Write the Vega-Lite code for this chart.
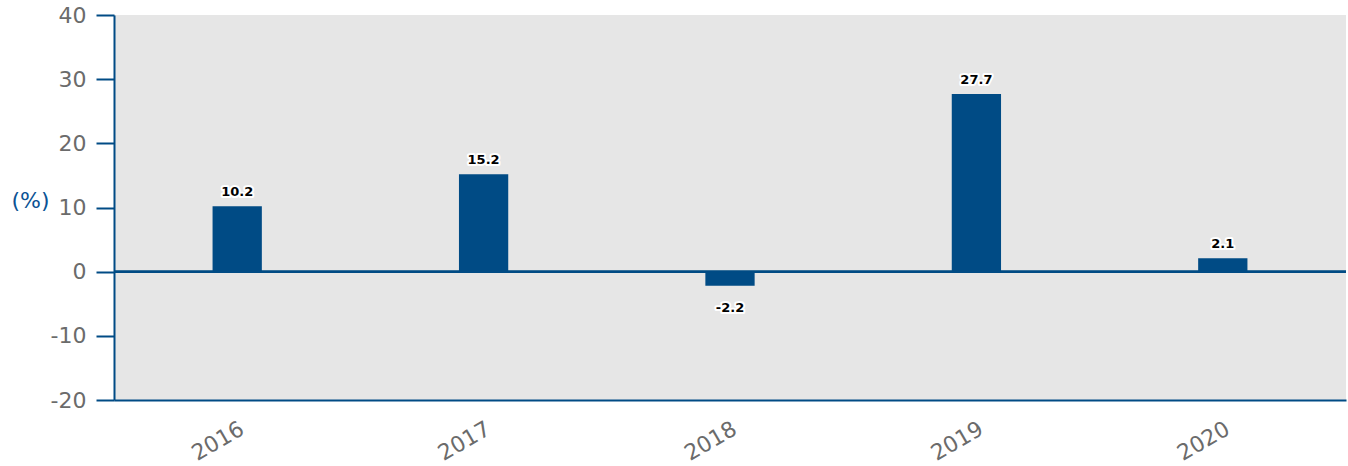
{
  "$schema": "https://vega.github.io/schema/vega-lite/v6.json",
  "width": 1232,
  "height": 385,
  "autosize": {"type": "none"},
  "padding": {"left": 114, "top": 15, "right": 2, "bottom": 66},
  "background": "white",
  "config": {
    "view": {"fill": "#e6e6e6", "stroke": null},
    "font": "DejaVu Sans"
  },
  "data": {
    "values": [
      {"year": "2016", "value": 10.2, "label": "10.2"},
      {"year": "2017", "value": 15.2, "label": "15.2"},
      {"year": "2018", "value": -2.2, "label": "-2.2"},
      {"year": "2019", "value": 27.7, "label": "27.7"},
      {"year": "2020", "value": 2.1, "label": "2.1"}
    ]
  },
  "encoding": {
    "x": {
      "field": "year",
      "type": "nominal",
      "scale": {"paddingInner": 0.8, "paddingOuter": 0.4},
      "axis": {
        "title": null,
        "domainColor": "#004b85",
        "domainWidth": 2,
        "ticks": false,
        "labelAngle": -30,
        "labelColor": "#6b6b6b",
        "labelFontSize": 22,
        "labelPadding": 18,
        "labelFont": "DejaVu Sans"
      }
    }
  },
  "layer": [
    {
      "mark": {"type": "bar", "color": "#004b85"},
      "encoding": {
        "y": {
          "field": "value",
          "type": "quantitative",
          "scale": {"domain": [-20, 40], "nice": false, "zero": false},
          "axis": {
            "values": [-20, -10, 0, 10, 20, 30, 40],
            "labelExpr": "'' + datum.value",
            "grid": false,
            "title": "(%)",
            "titleAngle": 0,
            "titleColor": "#0b5394",
            "titleFontSize": 22,
            "titleFontWeight": "normal",
            "titleFont": "DejaVu Sans",
            "titleX": -65,
            "titleY": 185,
            "titleAlign": "right",
            "titleBaseline": "middle",
            "domainColor": "#004b85",
            "domainWidth": 2,
            "tickColor": "#004b85",
            "tickWidth": 2,
            "tickSize": 18,
            "labelColor": "#6b6b6b",
            "labelFontSize": 22,
            "labelPadding": 10,
            "labelFont": "DejaVu Sans"
          }
        }
      }
    },
    {
      "mark": {"type": "rule", "color": "#004b85", "strokeWidth": 2},
      "encoding": {"x": null, "y": {"datum": 0, "type": "quantitative"}}
    },
    {
      "transform": [{"filter": "datum.value >= 0"}],
      "mark": {"type": "text", "fontSize": 13, "fontWeight": "bold", "dy": -14, "baseline": "middle", "stroke": "white", "strokeWidth": 4, "strokeJoin": "round", "color": "black"},
      "encoding": {"y": {"field": "value", "type": "quantitative"}, "text": {"field": "label"}}
    },
    {
      "transform": [{"filter": "datum.value >= 0"}],
      "mark": {"type": "text", "fontSize": 13, "fontWeight": "bold", "dy": -14, "baseline": "middle", "color": "black"},
      "encoding": {"y": {"field": "value", "type": "quantitative"}, "text": {"field": "label"}}
    },
    {
      "transform": [{"filter": "datum.value < 0"}],
      "mark": {"type": "text", "fontSize": 13, "fontWeight": "bold", "dy": 22, "baseline": "middle", "stroke": "white", "strokeWidth": 4, "strokeJoin": "round", "color": "black"},
      "encoding": {"y": {"field": "value", "type": "quantitative"}, "text": {"field": "label"}}
    },
    {
      "transform": [{"filter": "datum.value < 0"}],
      "mark": {"type": "text", "fontSize": 13, "fontWeight": "bold", "dy": 22, "baseline": "middle", "color": "black"},
      "encoding": {"y": {"field": "value", "type": "quantitative"}, "text": {"field": "label"}}
    }
  ]
}
